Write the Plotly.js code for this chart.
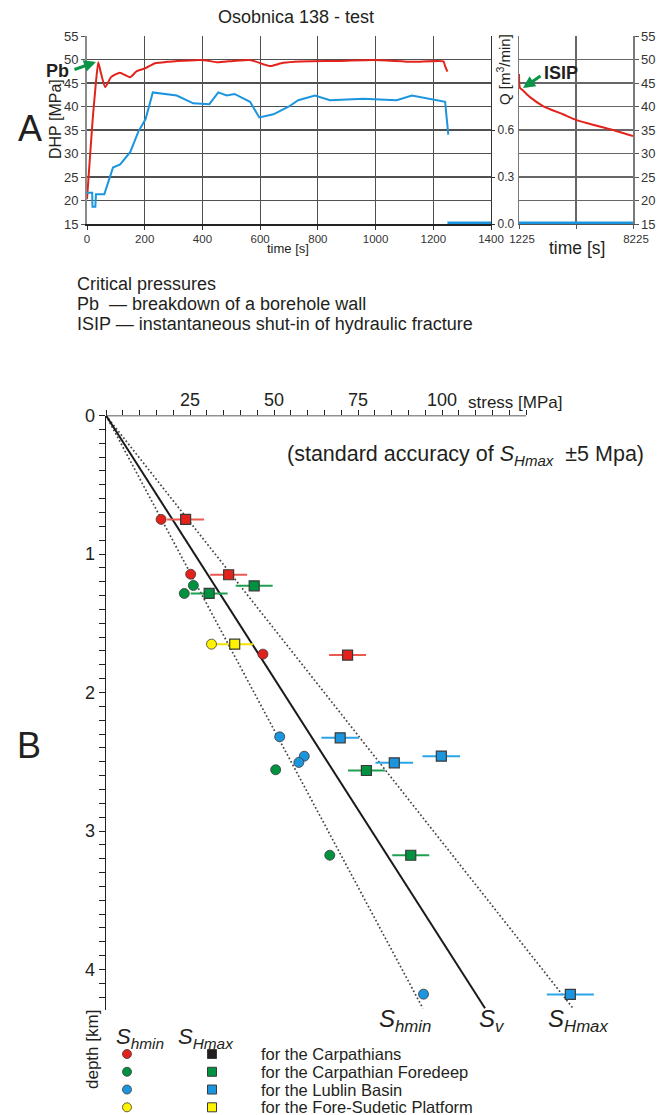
<!DOCTYPE html>
<html><head><meta charset="utf-8">
<script src="https://cdn.plot.ly/plotly-3.0.1.min.js"></script>
<style>html,body{margin:0;padding:0;background:#fff;}#chart{width:666px;height:1115px;}</style>
</head><body><div id="chart"></div>
<script>
// ---------- Panel A : Osobnica 138 test ----------
const pressureTime   = [0, 10, 20, 30, 39, 48, 63, 84, 114, 149, 172, 201, 236, 276, 392, 415, 450, 507, 565, 611, 634, 680, 738, 877, 992, 1131, 1235, 1241, 1249];
const pressureValues = [20.3, 29, 37.5, 44.5, 49.4, 47.2, 44.1, 46.3, 47.2, 46.2, 47.5, 48.1, 49.2, 49.5, 49.9, 49.8, 49.4, 49.7, 49.9, 49.0, 48.6, 49.3, 49.6, 49.7, 49.9, 49.5, 49.6, 48.6, 47.4];
const flowTime   = [0, 18, 19, 29, 31, 60, 90, 115, 150, 178, 203, 228, 311, 368, 424, 455, 484, 511, 565, 597, 646, 700, 732, 790, 842, 958, 1073, 1126, 1241, 1252];
const flowValues = [0.20, 0.20, 0.11, 0.11, 0.19, 0.19, 0.36, 0.38, 0.46, 0.59, 0.67, 0.84, 0.82, 0.77, 0.765, 0.84, 0.82, 0.83, 0.78, 0.68, 0.70, 0.75, 0.79, 0.82, 0.79, 0.80, 0.79, 0.82, 0.78, 0.57];
const flowOffTime   = [1249, 1400];
const flowOffValues = [0, 0];
const shutinTime   = [1225, 1240, 1280, 1500, 1900, 2700, 3950, 4770, 6000, 7200, 8225];
const shutinValues = [46.9, 45.0, 44.0, 43.3, 42.0, 40.1, 38.3, 37.1, 35.9, 34.8, 33.7];
const shutinFlowTime   = [1225, 8225];
const shutinFlowValues = [0, 0];
const timeTicks = [0, 200, 400, 600, 800, 1000, 1200, 1400];
const shutinTicks = [1225, 4725, 8225];
const shutinTickText = ['1225', '', '8225'];
const flowTicks = [0, 0.3, 0.6];
const flowTickText = ['0.0', '0.3', '0.6'];

// ---------- Panel B : stress vs depth ----------
const carpShminStress = [16.4, 25.2, 46.7];
const carpShminDepth  = [0.75, 1.146, 1.723];
const carpSHmaxStress = [23.7, 36.5, 71.9];
const carpSHmaxDepth  = [0.75, 1.15, 1.73];
const carpSHmaxError  = [5.5, 5.5, 5.5];
const foreShminStress = [26.0, 23.3, 50.5, 66.6];
const foreShminDepth  = [1.227, 1.285, 2.558, 3.175];
const foreSHmaxStress = [44.1, 30.7, 77.5, 90.7];
const foreSHmaxDepth  = [1.23, 1.285, 2.563, 3.175];
const foreSHmaxError  = [5.5, 5.5, 5.5, 5.5];
const lublinShminStress = [51.7, 59.0, 57.4, 94.5];
const lublinShminDepth  = [2.32, 2.46, 2.505, 4.178];
const lublinSHmaxStress = [69.7, 99.8, 85.8, 138.2];
const lublinSHmaxDepth  = [2.327, 2.46, 2.508, 4.18];
const lublinSHmaxError  = [5.6, 5.6, 5.6, 7.0];
const fsShminStress = [31.4];
const fsShminDepth  = [1.651];
const fsSHmaxStress = [38.3];
const fsSHmaxDepth  = [1.651];
const fsSHmaxError  = [5.5];
const gradientDepth = [0, 4.28];
const svStress      = [0, 112.8];
const shminStress   = [0, 94.3];
const sHmaxStress   = [0, 139.0];
const stressTickLabels = ['25', '50', '75', '100'];
const depthTickLabels  = ['0', '1', '2', '3', '4'];
const stressAxisMax = 125;

// legend
const legendRegions = ['for the Carpathians', 'for the Carpathian Foredeep', 'for the Lublin Basin', 'for the Fore-Sudetic Platform'];
const legendShminColors = ['#e3231b', '#00923f', '#1b95dd', '#fff200'];
const legendSHmaxColors = ['#231f20', '#00923f', '#1b95dd', '#fff200'];

// ---------- helpers ----------
const W = 666, H = 1115;
const fx = x => x / W, fy = y => 1 - y / H;
const FONT = 'Liberation Sans, Arial, sans-serif';
const RED = '#e3231b', GREEN = '#00923f', BLUE = '#1b95dd', YELLOW = '#fff200';

function shminTrace(x, y, color) {
  return {x: x, y: y, xaxis: 'x3', yaxis: 'y5', type: 'scatter', mode: 'markers', hoverinfo: 'skip',
    marker: {symbol: 'circle', size: 10, color: color, line: {color: '#3a3a3a', width: 0.8}}};
}
function sHmaxTrace(x, y, err, color, barColor) {
  return {x: x, y: y, xaxis: 'x3', yaxis: 'y5', type: 'scatter', mode: 'markers', hoverinfo: 'skip',
    error_x: {type: 'data', array: err, color: barColor, thickness: 2, width: 0},
    marker: {symbol: 'square', size: 10, color: color, line: {color: '#3a3a3a', width: 1.2}}};
}

const stressTickVals = [], stressTickText = [];
for (let v = 0; v <= stressAxisMax; v += 5) { stressTickVals.push(v); stressTickText.push(stressTickLabels.includes(String(v)) ? String(v) : ''); }
const depthTickVals = [], depthTickText = [];
for (let i = 0; i <= 43; i++) { const v = +(i / 10).toFixed(1); depthTickVals.push(v); depthTickText.push(Number.isInteger(v) && depthTickLabels.includes(String(v)) ? String(v) : ''); }

const data = [
  // panel A left
  {x: flowTime, y: flowValues, xaxis: 'x', yaxis: 'y2', type: 'scatter', mode: 'lines', line: {color: BLUE, width: 2}, hoverinfo: 'skip'},
  {x: flowOffTime, y: flowOffValues, xaxis: 'x', yaxis: 'y2', type: 'scatter', mode: 'lines', line: {color: BLUE, width: 5}, hoverinfo: 'skip'},
  {x: pressureTime, y: pressureValues, xaxis: 'x', yaxis: 'y', type: 'scatter', mode: 'lines', line: {color: RED, width: 2, shape: 'spline', smoothing: 0.5}, hoverinfo: 'skip'},
  // panel A right
  {x: shutinFlowTime, y: shutinFlowValues, xaxis: 'x2', yaxis: 'y4', type: 'scatter', mode: 'lines', line: {color: BLUE, width: 5}, hoverinfo: 'skip'},
  {x: shutinTime, y: shutinValues, xaxis: 'x2', yaxis: 'y3', type: 'scatter', mode: 'lines', line: {color: RED, width: 2, shape: 'spline', smoothing: 0.6}, hoverinfo: 'skip'},
  // panel B gradient lines
  {x: shminStress, y: gradientDepth, xaxis: 'x3', yaxis: 'y5', type: 'scatter', mode: 'lines', line: {color: '#444', width: 1.7, dash: '1.7px,2.3px'}, hoverinfo: 'skip'},
  {x: sHmaxStress, y: gradientDepth, xaxis: 'x3', yaxis: 'y5', type: 'scatter', mode: 'lines', line: {color: '#444', width: 1.7, dash: '1.7px,2.3px'}, hoverinfo: 'skip'},
  {x: svStress, y: gradientDepth, xaxis: 'x3', yaxis: 'y5', type: 'scatter', mode: 'lines', line: {color: '#1a1a1a', width: 2}, hoverinfo: 'skip'},
  // panel B points
  sHmaxTrace(carpSHmaxStress, carpSHmaxDepth, carpSHmaxError, RED, '#ea5a50'),
  sHmaxTrace(foreSHmaxStress, foreSHmaxDepth, foreSHmaxError, GREEN, '#1f9f50'),
  sHmaxTrace(lublinSHmaxStress, lublinSHmaxDepth, lublinSHmaxError, BLUE, '#2aa6e8'),
  sHmaxTrace(fsSHmaxStress, fsSHmaxDepth, fsSHmaxError, YELLOW, '#f2e200'),
  shminTrace(carpShminStress, carpShminDepth, RED),
  shminTrace(foreShminStress, foreShminDepth, GREEN),
  shminTrace(lublinShminStress, lublinShminDepth, BLUE),
  shminTrace(fsShminStress, fsShminDepth, YELLOW),
  // legend symbols
  {x: legendRegions.map(() => 'Shmin'), y: legendRegions, xaxis: 'x4', yaxis: 'y6', type: 'scatter', mode: 'markers', hoverinfo: 'skip',
    marker: {symbol: 'circle', size: 9, color: legendShminColors, line: {color: '#3a3a3a', width: 0.8}}},
  {x: legendRegions.map(() => 'SHmax'), y: legendRegions, xaxis: 'x4', yaxis: 'y6', type: 'scatter', mode: 'markers', hoverinfo: 'skip',
    marker: {symbol: 'square', size: 9, color: legendSHmaxColors, line: {color: '#3a3a3a', width: 1}}}
];

const gridA = '#505050';
const layout = {
  width: W, height: H, margin: {l: 0, r: 0, t: 0, b: 0}, showlegend: false,
  paper_bgcolor: '#fff', plot_bgcolor: 'rgba(0,0,0,0)',
  font: {family: FONT, color: '#231f20'},
  xaxis: {domain: [fx(87), fx(491)], range: [0, 1400], anchor: 'y', tickmode: 'array', tickvals: timeTicks,
    ticks: 'outside', ticklen: 4, tickcolor: '#333', showgrid: true, gridcolor: gridA, gridwidth: 1.2,
    showline: true, linecolor: '#222', linewidth: 1.5, zeroline: false, tickfont: {size: 11.5, color: '#333'}, fixedrange: true},
  yaxis: {domain: [fy(224), fy(36)], range: [15, 55], anchor: 'x', tick0: 15, dtick: 5,
    ticks: 'outside', ticklen: 4, tickcolor: '#555', showgrid: true, gridcolor: gridA, gridwidth: 1.2,
    showline: true, linecolor: '#8a8a8a', linewidth: 2, zeroline: false, tickfont: {size: 13, color: '#333'}, fixedrange: true},
  yaxis2: {overlaying: 'y', side: 'right', anchor: 'x', range: [0, 1.2], tickmode: 'array', tickvals: flowTicks, ticktext: flowTickText,
    ticks: 'outside', ticklen: 3, tickcolor: '#333', showgrid: false, showline: true, linecolor: '#333', linewidth: 1.2,
    zeroline: false, tickfont: {size: 12, color: '#333'}, fixedrange: true},
  xaxis2: {domain: [fx(519), fx(633)], range: [1225, 8225], anchor: 'y3', tickmode: 'array', tickvals: shutinTicks, ticktext: shutinTickText,
    ticks: 'outside', ticklen: 4, tickcolor: '#555', showgrid: true, gridcolor: '#666', gridwidth: 1.2, layer: 'below traces',
    ticklabelshift: 3,
    showline: true, linecolor: '#555', linewidth: 1.2, zeroline: false, tickfont: {size: 11.5, color: '#333'}, fixedrange: true},
  yaxis3: {domain: [fy(224), fy(36)], range: [15, 55], anchor: 'x2', side: 'right', tick0: 15, dtick: 5,
    ticks: 'outside', ticklen: 4, tickcolor: '#555', showgrid: true, gridcolor: '#666', gridwidth: 1.2,
    showline: true, mirror: true, linecolor: '#7a7a7a', linewidth: 1.5, zeroline: false, tickfont: {size: 13, color: '#333'}, fixedrange: true},
  yaxis4: {overlaying: 'y3', anchor: 'x2', range: [0, 1.2], visible: false, fixedrange: true},
  xaxis3: {domain: [fx(106), fx(660)], range: [0, 554 / 3.36], anchor: 'y5', side: 'top', tickmode: 'array',
    tickvals: stressTickVals, ticktext: stressTickText, ticks: 'outside', ticklen: 5, tickcolor: '#222', tickwidth: 1,
    ticklabelstandoff: -4,
    showline: false, showgrid: false, zeroline: false, tickfont: {size: 18, color: '#231f20'}, fixedrange: true},
  yaxis5: {domain: [fy(415.5 + 4.29 * 138.5), fy(415.5)], range: [4.29, 0], anchor: 'x3', tickmode: 'array',
    tickvals: depthTickVals, ticktext: depthTickText, ticks: 'outside', ticklen: 6, tickcolor: '#222', tickwidth: 1,
    showline: true, linecolor: '#222', linewidth: 1.5, showgrid: false, zeroline: false, tickfont: {size: 18, color: '#231f20'}, fixedrange: true},
  xaxis4: {domain: [fx(84.5), fx(254.5)], type: 'category', categoryorder: 'array', categoryarray: ['Shmin', 'SHmax'], range: [-0.5, 1.5], anchor: 'y6', visible: false, fixedrange: true},
  yaxis6: {domain: [0, fy(1040)], type: 'category', categoryorder: 'array', categoryarray: legendRegions, range: [3.433, -0.788], anchor: 'x4', visible: false, fixedrange: true},
  shapes: [
    {type: 'line', xref: 'x3', yref: 'y5', x0: 0, x1: stressAxisMax, y0: 0, y1: 0, line: {color: '#222', width: 1.5}}
  ],
  annotations: []
};

function txt(text, x, y, size, opts) {
  return Object.assign({text: text, xref: 'paper', yref: 'paper', x: fx(x), y: fy(y), showarrow: false,
    xanchor: 'center', yanchor: 'middle', font: {size: size, family: FONT, color: '#231f20'}}, opts || {});
}
const A = layout.annotations;
A.push(txt('Osobnica 138 - test', 296, 17, 18));
A.push(txt('A', 30, 128, 36));
A.push(txt('B', 29, 745, 36));
A.push(txt('DHP [MPa]', 55, 119, 16, {textangle: -90}));
A.push(txt('Q [m<sup>3</sup>/min]', 504, 70, 15, {textangle: -90}));
A.push(txt('time [s]', 288, 248, 13));
A.push(txt('time [s]', 577, 248, 17.5));
A.push(txt('<b>Pb</b>', 57, 71, 18));
A.push(txt('<b>ISIP</b>', 561, 73, 18));
A.push({text: '', xref: 'paper', yref: 'paper', x: fx(96), y: fy(62), ax: -23, ay: 8, showarrow: true, arrowhead: 2, arrowsize: 0.8, arrowwidth: 3, arrowcolor: '#0a9447'});
A.push({text: '', xref: 'paper', yref: 'paper', x: fx(523), y: fy(88), ax: 19, ay: -13, showarrow: true, arrowhead: 2, arrowsize: 0.8, arrowwidth: 3, arrowcolor: '#0a9447'});
A.push(txt('Critical pressures', 75, 284, 18, {xanchor: 'left'}));
A.push(txt('Pb  \u2014 breakdown of a borehole wall', 75, 304, 18, {xanchor: 'left'}));
A.push(txt('ISIP \u2014 instantaneous shut-in of hydraulic fracture', 75, 324, 18, {xanchor: 'left'}));
A.push(txt('stress [MPa]', 466, 402, 17, {xanchor: 'left'}));
A.push(txt('(standard accuracy of <i>S</i><sub><i>Hmax</i></sub>  \u00b15 Mpa)', 285, 455, 21.5, {xanchor: 'left'}));
A.push(txt('depth [km]', 92, 1050, 17, {textangle: -90}));
A.push(txt('<i>S</i><sub><i>hmin</i></sub>', 377, 1020, 24, {xanchor: 'left'}));
A.push(txt('<i>S</i><sub><i>v</i></sub>', 477, 1020, 24, {xanchor: 'left'}));
A.push(txt('<i>S</i><sub><i>Hmax</i></sub>', 546, 1020, 24, {xanchor: 'left'}));
A.push(txt('<i>S</i><sub><i>hmin</i></sub>', 114, 1038, 22, {xanchor: 'left'}));
A.push(txt('<i>S</i><sub><i>Hmax</i></sub>', 176, 1038, 22, {xanchor: 'left'}));
legendRegions.forEach((r, i) => {
  A.push({text: r, xref: 'paper', yref: 'y6', x: fx(259), y: i, xanchor: 'left', yanchor: 'middle', showarrow: false,
    font: {size: 16.5, family: FONT, color: '#231f20'}});
});

Plotly.newPlot('chart', data, layout, {displayModeBar: false, staticPlot: true});
</script>
</body></html>
